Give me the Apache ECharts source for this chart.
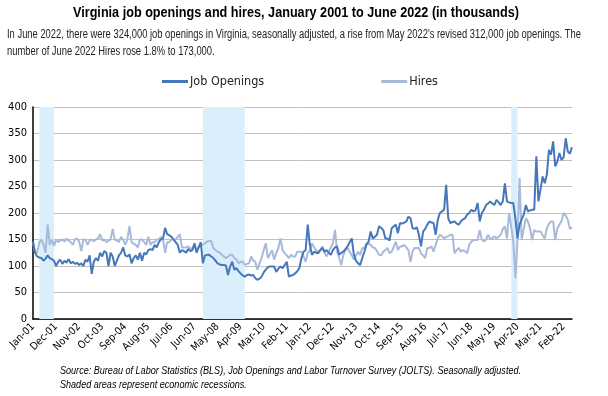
<!DOCTYPE html>
<html>
<head>
<meta charset="utf-8">
<script src="https://cdn.jsdelivr.net/npm/echarts@6/dist/echarts.min.js"></script>
<style>
html, body { margin: 0; padding: 0; background: #fff; }
#container { width: 608px; height: 396px; }
</style>
</head>
<body>
<div id="container"></div>
<script>
// month names for the category axis
var monthNames = ["Jan","Feb","Mar","Apr","May","Jun","Jul","Aug","Sep","Oct","Nov","Dec"];
var firstYear = 2001, lastYear = 2022, lastMonth = 6;

// job openings, thousands, Jan-01 .. Jun-22
var jobOpenings = [
	146,125,118,116,115,110,114,120,115,113,110,100, // 2001
	108,112,104,110,106,113,105,108,104,106,102,105, // 2002
	100,112,108,120,85,108,115,110,125,118,128,125,  // 2003
	100,125,118,100,110,120,125,135,120,118,122,105, // 2004
	115,120,112,125,110,125,122,130,132,130,140,135, // 2005
	145,150,152,172,160,158,155,150,145,140,125,130, // 2006
	128,125,132,128,130,143,125,135,145,105,120,121, // 2007
	121,118,115,110,105,103,102,102,101,83,99,108,   // 2008
	93,96,90,86,82,80,83,84,82,83,77,74,             // 2009
	76,80,88,93,98,99,99,99,89,95,99,96,             // 2010
	102,108,80,82,83,86,90,96,115,127,130,178,       // 2011
	140,121,127,125,124,130,134,127,130,125,121,130, // 2012
	135,137,121,125,127,132,137,145,152,121,110,105, // 2013
	102,115,127,140,146,165,152,155,159,175,172,168, // 2014
	152,152,148,171,175,178,162,181,180,182,184,193, // 2015
	190,171,170,173,159,137,165,170,178,184,182,181, // 2016
	159,187,200,203,206,253,190,181,183,184,180,178, // 2017
	184,188,190,197,200,206,203,205,219,184,200,206, // 2018
	215,218,222,218,215,225,220,215,222,256,222,220, // 2019
	219,219,190,152,178,188,197,215,203,205,206,206, // 2020
	307,222,245,269,256,272,319,310,335,288,297,313, // 2021
	300,305,341,316,312,324                          // 2022
];

// hires, thousands
var hires = [
	145,125,125,145,150,140,125,178,140,150,138,150, // 2001
	145,148,150,146,152,148,145,140,150,152,146,128, // 2002
	150,150,140,148,150,147,150,152,160,148,150,145, // 2003
	148,150,170,150,148,145,155,150,140,150,175,145, // 2004
	142,140,135,150,150,145,140,155,140,145,145,150, // 2005
	150,155,150,125,145,145,150,150,150,155,160,135, // 2006
	135,135,137,133,133,137,130,137,140,140,143,146, // 2007
	147,147,134,130,127,125,121,118,115,118,121,121, // 2008
	115,112,105,108,108,102,104,105,118,110,108,93,  // 2009
	105,115,130,143,115,122,130,112,125,134,152,130, // 2010
	124,120,115,121,118,118,127,127,127,118,108,124, // 2011
	130,143,135,130,127,130,137,125,118,127,135,143, // 2012
	168,127,115,102,121,130,134,127,120,112,120,127, // 2013
	121,134,134,143,142,140,135,134,128,121,120,127, // 2014
	130,134,124,127,136,146,130,137,137,140,135,130, // 2015
	108,128,134,134,134,124,120,115,134,134,137,127, // 2016
	140,152,159,156,152,155,156,159,159,124,130,134, // 2017
	127,130,128,124,140,146,149,149,149,168,150,146, // 2018
	150,159,152,152,156,152,155,159,170,175,152,200, // 2019
	175,146,77,150,266,149,170,190,184,171,149,168,  // 2020
	165,165,165,158,152,171,180,184,184,149,171,178, // 2021
	185,200,195,187,170,173                          // 2022
];

// recession periods (start, end)
var recessions = [
	["Apr-01","Nov-01"],
	["Oct-07","Jun-09"],
	["Jan-20","Apr-20"]
];

var titleText = "Virginia job openings and hires, January 2001 to June 2022 (in thousands)";
var subLines = [
	"In June 2022, there were 324,000 job openings in Virginia, seasonally adjusted, a rise from May 2022's revised 312,000 job openings. The",
	"number of June 2022 Hires rose 1.8% to 173,000."
];
var noteLines = [
	"Source: Bureau of Labor Statistics (BLS), Job Openings and Labor Turnover Survey (JOLTS). Seasonally adjusted.",
	"Shaded areas represent economic recessions."
];

var months = [];
for (var y = firstYear; y <= lastYear; y++) {
	for (var m = 0; m < 12; m++) {
		if (y == lastYear && m >= lastMonth) break;
		months.push(monthNames[m] + "-" + String(y).slice(2));
	}
}

var sans = "'Liberation Sans', Arial, sans-serif";
var narrow = "'Liberation Sans Narrow', 'Arial Narrow', 'DejaVu Sans Condensed', sans-serif";
var darkBlue = "#4677BA";
var lightBlue = "#A8B9D9";

// squeeze a text line horizontally so it looks like a narrow font
var measureCtx = document.createElement("canvas").getContext("2d");
function squeeze(font, text, width) {
	measureCtx.font = font;
	return width / measureCtx.measureText(text).width;
}

var titleFont = "bold 14px " + sans;
var subFont = "12px " + sans;
var noteFont = "italic 11.5px " + sans;

var myChart = echarts.init(document.getElementById("container"));
myChart.setOption({
	animation: false,
	backgroundColor: "#fff",
	graphic: [
		{
			type: "text",
			x: 296,
			y: 6,
			scaleX: squeeze(titleFont, titleText, 446),
			style: { text: titleText, font: titleFont, fill: "#000", align: "center" }
		},
		{
			type: "text",
			x: 7,
			y: 26,
			scaleX: squeeze(subFont, subLines[0], 574),
			style: { text: subLines.join("\n"), font: subFont, fill: "#222", lineHeight: 17 }
		},
		{
			type: "text",
			x: 60,
			y: 364,
			scaleX: squeeze(noteFont, noteLines[0], 461),
			style: { text: noteLines.join("\n"), font: noteFont, fill: "#000", lineHeight: 14 }
		}
	],
	legend: {
		top: 70,
		left: 157,
		itemGap: 117,
		itemWidth: 26,
		itemHeight: 3,
		icon: "rect",
		textStyle: { fontFamily: narrow, fontSize: 12.5, color: "#222", padding: [0, 0, 0, -3] },
		data: ["Job Openings", "Hires"]
	},
	grid: { left: 33, right: 36, top: 107, bottom: 77 },
	xAxis: {
		type: "category",
		data: months,
		boundaryGap: false,
		axisLine: { lineStyle: { color: "#000", width: 1.5 } },
		axisTick: { show: false },
		axisLabel: {
			interval: 10,
			rotate: 45,
			color: "#000",
			fontFamily: narrow,
			fontSize: 10.5,
			margin: 6
		}
	},
	yAxis: {
		type: "value",
		min: 0,
		max: 400,
		interval: 50,
		axisLine: { show: true, lineStyle: { color: "#000", width: 1.5 } },
		axisTick: { show: false },
		axisLabel: { color: "#000", fontFamily: narrow, fontSize: 11, margin: 6 },
		splitLine: { lineStyle: { color: "#BFBFBF", width: 1 } }
	},
	series: [
		{
			name: "Job Openings",
			type: "line",
			data: jobOpenings,
			symbol: "none",
			lineStyle: { color: darkBlue, width: 2 },
			itemStyle: { color: darkBlue },
			markArea: {
				silent: true,
				itemStyle: { color: "#DAEEFB" },
				data: recessions.map(function (r) {
					return [{ xAxis: r[0] }, { xAxis: r[1] }];
				})
			},
			z: 3
		},
		{
			name: "Hires",
			type: "line",
			data: hires,
			symbol: "none",
			lineStyle: { color: lightBlue, width: 2 },
			itemStyle: { color: lightBlue },
			z: 2
		}
	]
});
</script>
</body>
</html>
